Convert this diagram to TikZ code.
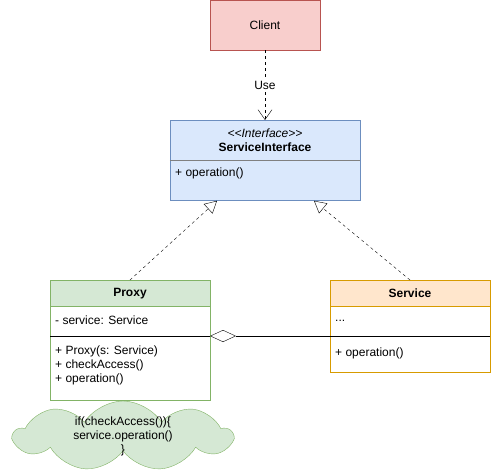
\documentclass[tikz,border=0pt]{standalone}
\usepackage{fontspec}
\setmainfont{Liberation Sans}
\usepackage{tikz}
\usetikzlibrary{positioning,shapes.symbols,arrows.meta}

\definecolor{clientfill}{HTML}{F8CECC}
\definecolor{clientline}{HTML}{B85450}
\definecolor{ifacefill}{HTML}{DAE8FC}
\definecolor{ifaceline}{HTML}{6C8EBF}
\definecolor{proxyfill}{HTML}{D5E8D4}
\definecolor{proxyline}{HTML}{82B366}
\definecolor{servfill}{HTML}{FFE6CC}
\definecolor{servline}{HTML}{D79B00}

\begin{document}
\begin{tikzpicture}[x=1pt,y=-1pt,
	every node/.style={font=\fontsize{12}{14}\selectfont, inner sep=0pt},
	classbox/.style={draw, rectangle, minimum width=#1, anchor=north},
	member/.style={anchor=west, align=left},
	realize/.style={dashed, -{Triangle[open,length=12pt,width=13pt]}},
	]
	\useasboundingbox (0,0) rectangle (491,471);

	\node[classbox=110pt, fill=clientfill, draw=clientline, minimum height=50pt] (client) at (265,0) {Client};

	\node[classbox=190pt, fill=ifacefill, draw=ifaceline, minimum height=40pt, align=center] (ifhead) at (265,120) {\textit{<\kern0pt<Interface>\kern0pt>}\\[0pt]\textbf{ServiceInterface}};
	\node[classbox=190pt, fill=ifacefill, draw=ifaceline, minimum height=40pt, below=0pt of ifhead] (ifbody) {};
	\draw[gray] (ifhead.south west) -- (ifhead.south east);
	\node[member] (ifop) at (175,173) {+ operation()};

	\node[classbox=160pt, fill=proxyfill, draw=proxyline, minimum height=26pt] (proxy) at (130,280) {\textbf{Proxy}};
	\node[classbox=160pt, draw=proxyline, minimum height=94pt, below=0pt of proxy] (proxybody) {};
	\node[member] (pfield) at (55,320) {- service: Service};
	\node[member, anchor=north west] (pops) at (55,346) {+ Proxy(s: Service)\\+ checkAccess()\\+ operation()};
	\coordinate (psepl) at (50,336);
	\coordinate (psepr) at (210,336);
	\draw (psepl) -- (psepr);

	\node[classbox=160pt, fill=servfill, draw=servline, minimum height=26pt] (service) at (410,280) {\textbf{Service}};
	\node[classbox=160pt, draw=servline, minimum height=66pt, below=0pt of service] (servbody) {};
	\node[member] (sfield) at (335,321) {...};
	\node[member] (sop) at (335,353) {+ operation()};
	\coordinate (ssepr) at (490,336);

	\node[cloud, draw=proxyline, fill=proxyfill, cloud puffs=9, cloud puff arc=115, cloud ignores aspect, inner xsep=-10pt, inner ysep=-10pt, minimum width=218pt, minimum height=70pt, align=center] (note) at (123,436) {if(checkAccess())\{\\service.operation()\\\}};

	% connectors
	\draw[dashed, -{Straight Barb[length=10pt,width=14pt]}] (client) -- node[fill=white, inner sep=1pt] (uselbl) {Use} (ifhead);
	\draw[realize] (proxy.north) -- ([xshift=-48pt]ifbody.south);
	\draw[realize] (service.north) -- ([xshift=49pt]ifbody.south);
	\draw[{Diamond[open,length=26pt,width=12pt]}-] (psepr) -- (ssepr);
\end{tikzpicture}
\end{document}
